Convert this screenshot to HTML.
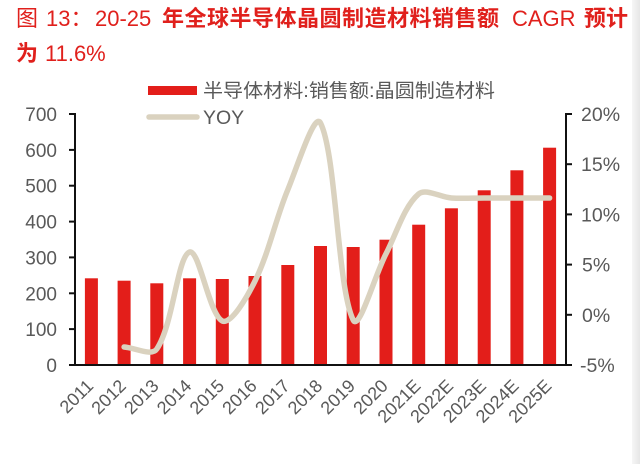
<!DOCTYPE html>
<html><head><meta charset="utf-8"><style>
html,body{margin:0;padding:0;background:#fff;}
svg{display:block;}
text{font-family:"Liberation Sans","Noto Sans CJK SC",sans-serif;}
</style></head><body>
<svg width="640" height="464" viewBox="0 0 640 464" xmlns="http://www.w3.org/2000/svg">
<defs>
<linearGradient id="g" x1="0" x2="1" y1="0" y2="0">
<stop offset="0" stop-color="#f6f6f6"/><stop offset="1" stop-color="#e6e6e6"/>
</linearGradient>
</defs>
<rect x="0" y="0" width="640" height="464" fill="#fff"/>
<rect x="632" y="0" width="8" height="464" fill="url(#g)"/>

<!-- Title -->
<g fill="#E0201C" font-size="22">
<text x="16" y="26">图</text>
<text x="46" y="26">13：</text>
<text x="95" y="26">20-25</text>
<text x="162" y="26" font-weight="bold" letter-spacing="0.5">年全球半导体晶圆制造材料销售额</text>
<text x="512" y="26">CAGR</text>
<text x="584" y="26" font-weight="bold">预计</text>
<text x="16" y="61" font-weight="bold">为</text>
<text x="45" y="61">11.6%</text>
</g>

<!-- Legend -->
<rect x="148" y="86" width="49" height="9" fill="#E31E1A"/>
<text x="203" y="97" font-size="19" fill="#595959" textLength="292" lengthAdjust="spacingAndGlyphs">半导体材料:销售额:晶圆制造材料</text>
<line x1="149" y1="117" x2="197" y2="117" stroke="#DAD2BF" stroke-width="5.5" stroke-linecap="round"/>
<text x="203" y="124" font-size="19.5" fill="#595959">YOY</text>

<!-- Bars -->
<g fill="#E31E1A">
<rect x="84.9" y="278.3" width="13" height="86.7"/>
<rect x="117.6" y="280.7" width="13" height="84.3"/>
<rect x="150.3" y="283.3" width="13" height="81.7"/>
<rect x="183.1" y="278.3" width="13" height="86.7"/>
<rect x="215.8" y="279" width="13" height="86"/>
<rect x="248.5" y="276" width="13" height="89"/>
<rect x="281.3" y="265" width="13" height="100"/>
<rect x="314.0" y="246" width="13" height="119"/>
<rect x="346.7" y="247" width="13" height="118"/>
<rect x="379.5" y="239.7" width="13" height="125.3"/>
<rect x="412.2" y="224.7" width="13" height="140.3"/>
<rect x="444.9" y="208.3" width="13" height="156.7"/>
<rect x="477.7" y="190.3" width="13" height="174.7"/>
<rect x="510.4" y="170.3" width="13" height="194.7"/>
<rect x="543.1" y="147.7" width="13" height="217.3"/>
</g>

<!-- YOY line -->
<path d="M124.1,347
C135.0,347.7 151.6,356.7 156.8,349
C173.4,324.4 177.2,256.9 189.5,252
C199.0,248.2 209.2,314.8 222.3,321
C231.0,325.1 247.3,296.7 255.0,281
C269.1,252.4 275.4,219.7 287.7,190
C297.2,167.1 314.6,111.2 320.5,123
C336.4,154.6 337.3,288.1 353.2,320
C359.1,331.8 374.6,275.8 385.9,254
C396.4,233.8 403.9,206.6 418.6,194
C425.7,187.9 440.4,197.3 451.4,198
C462.2,198.7 473.2,198 484.1,198
C495.0,198 505.9,198 516.8,198
C527.7,198 538.7,198 549.6,198"
fill="none" stroke="#DAD2BF" stroke-width="5.5" stroke-linecap="round" stroke-linejoin="round"/>

<!-- Axes -->
<g stroke="#111" stroke-width="2" fill="none">
<line x1="75" y1="113" x2="75" y2="366"/>
<line x1="566" y1="113" x2="566" y2="366"/>
<line x1="74" y1="365" x2="567" y2="365"/>
<line x1="69" y1="365" x2="75" y2="365"/>
<line x1="69" y1="329.1" x2="75" y2="329.1"/>
<line x1="69" y1="293.3" x2="75" y2="293.3"/>
<line x1="69" y1="257.4" x2="75" y2="257.4"/>
<line x1="69" y1="221.6" x2="75" y2="221.6"/>
<line x1="69" y1="185.7" x2="75" y2="185.7"/>
<line x1="69" y1="149.9" x2="75" y2="149.9"/>
<line x1="69" y1="114" x2="75" y2="114"/>
<line x1="566" y1="365" x2="572" y2="365"/>
<line x1="566" y1="314.8" x2="572" y2="314.8"/>
<line x1="566" y1="264.6" x2="572" y2="264.6"/>
<line x1="566" y1="214.4" x2="572" y2="214.4"/>
<line x1="566" y1="164.2" x2="572" y2="164.2"/>
<line x1="566" y1="114" x2="572" y2="114"/>
</g>

<!-- Left labels -->
<g font-size="19" fill="#595959" text-anchor="end">
<text x="57" y="372">0</text>
<text x="57" y="336.1">100</text>
<text x="57" y="300.3">200</text>
<text x="57" y="264.4">300</text>
<text x="57" y="228.6">400</text>
<text x="57" y="192.7">500</text>
<text x="57" y="156.9">600</text>
<text x="57" y="121">700</text>
</g>
<!-- Right labels -->
<g font-size="19.5" fill="#595959">
<text x="580" y="372">-5%</text>
<text x="582" y="321.8">0%</text>
<text x="582" y="271.6">5%</text>
<text x="581" y="221.4">10%</text>
<text x="581" y="171.2">15%</text>
<text x="581" y="121">20%</text>
</g>

<!-- X labels -->
<g font-size="18" fill="#595959" text-anchor="end">
<text transform="translate(94.4,387) rotate(-45)">2011</text>
<text transform="translate(127.1,387) rotate(-45)">2012</text>
<text transform="translate(159.8,387) rotate(-45)">2013</text>
<text transform="translate(192.6,387) rotate(-45)">2014</text>
<text transform="translate(225.3,387) rotate(-45)">2015</text>
<text transform="translate(258.0,387) rotate(-45)">2016</text>
<text transform="translate(290.8,387) rotate(-45)">2017</text>
<text transform="translate(323.5,387) rotate(-45)">2018</text>
<text transform="translate(356.2,387) rotate(-45)">2019</text>
<text transform="translate(389.0,387) rotate(-45)">2020</text>
<text transform="translate(421.7,387) rotate(-45)">2021E</text>
<text transform="translate(454.4,387) rotate(-45)">2022E</text>
<text transform="translate(487.2,387) rotate(-45)">2023E</text>
<text transform="translate(519.9,387) rotate(-45)">2024E</text>
<text transform="translate(552.6,387) rotate(-45)">2025E</text>
</g>
</svg>
</body></html>
